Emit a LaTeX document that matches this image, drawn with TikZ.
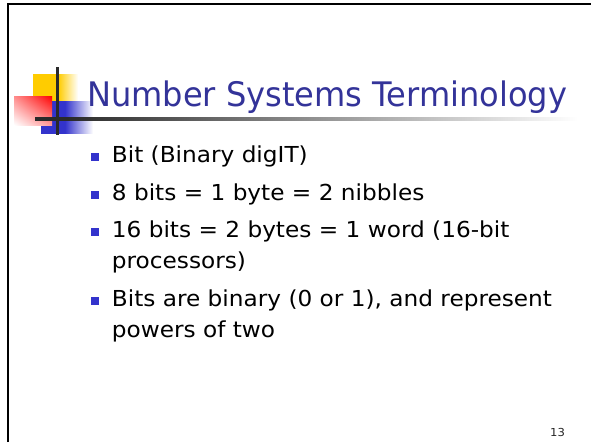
\documentclass[tikz,border=0pt]{standalone}
\usepackage{fontspec}
\setmainfont{DejaVu Sans}[FakeStretch=1.055]
\newfontfamily\titlefont{DejaVu Sans}[FakeStretch=0.949]
\usetikzlibrary{shadings}
\definecolor{titleblue}{HTML}{333399}
\definecolor{bulletblue}{HTML}{3333CC}
\definecolor{logoyellow}{HTML}{FFCC00}
\definecolor{logoblue}{HTML}{3333CC}
\definecolor{rulegray}{HTML}{2A2A2A}
\pgfdeclarehorizontalshading{rulefade}{100bp}{color(0bp)=(rulegray); color(28bp)=(rulegray); color(75bp)=(white); color(100bp)=(white)}
\pgfdeclarehorizontalshading{yellowfade}{100bp}{color(0bp)=(logoyellow); color(25bp)=(logoyellow); color(53bp)=(logoyellow); color(75bp)=(white); color(100bp)=(white)}
\pgfdeclarehorizontalshading{bluefade}{100bp}{color(0bp)=(logoblue); color(25bp)=(logoblue); color(48bp)=(logoblue); color(75bp)=(white); color(100bp)=(white)}
\begin{document}
\begin{tikzpicture}[x=1pt,y=-1pt,
  bodytext/.style={anchor=base west,inner sep=0pt,font=\fontsize{22}{26}\selectfont,text=black},
  bulletsq/.style={fill=bulletblue,draw=none,inner sep=0pt,minimum size=8pt,anchor=south west},
  titletext/.style={anchor=base west,inner sep=0pt,font=\titlefont\fontsize{33.8}{40}\selectfont,text=titleblue},
  frameline/.style={line width=2pt,black}]
\useasboundingbox (0,0) rectangle (591,442);
\fill[white] (0,0) rectangle (591,442);
% frame
\draw[frameline] (7.7,442) -- (7.7,4.3) -- (591,4.3);
% logo
\shade[shading=yellowfade] (33,74) rectangle (78,104);
\shade[shading=bluefade] (41,101) rectangle (93,133);
\shade[upper right=red, upper left=red!45, lower right=red!40, lower left=white] (14,96) rectangle (52,125);
\shade[shading=rulefade] (35,117.5) rectangle (578,120.5);
\fill[rulegray] (55.8,67) rectangle (58.8,135);
% title
\node[titletext] (title) at (87,106.7) {Number Systems Terminology};
% bullets
\node[bulletsq] (b1) at (91,161.5) {};
\node[bodytext] (t1) at (111.7,162.5) {Bit (Binary digIT)};
\node[bulletsq] (b2) at (91,199) {};
\node[bodytext] (t2) at (111.7,200.5) {8 bits = 1 byte = 2 nibbles};
\node[bulletsq] (b3) at (91,236) {};
\node[bodytext] (t3) at (111.7,237.5) {16 bits = 2 bytes = 1 word (16-bit};
\node[bodytext] (t3b) at (111.7,268.5) {processors)};
\node[bulletsq] (b4) at (91,305) {};
\node[bodytext] (t4) at (111.7,306.5) {Bits are binary (0 or 1), and represent};
\node[bodytext] (t4b) at (111.7,337.5) {powers of two};
% page number
\node[anchor=base west,inner sep=0pt,font=\fontsize{11}{13}\selectfont,text=black!85] (pnum) at (550,436.5) {13};
\end{tikzpicture}
\end{document}
